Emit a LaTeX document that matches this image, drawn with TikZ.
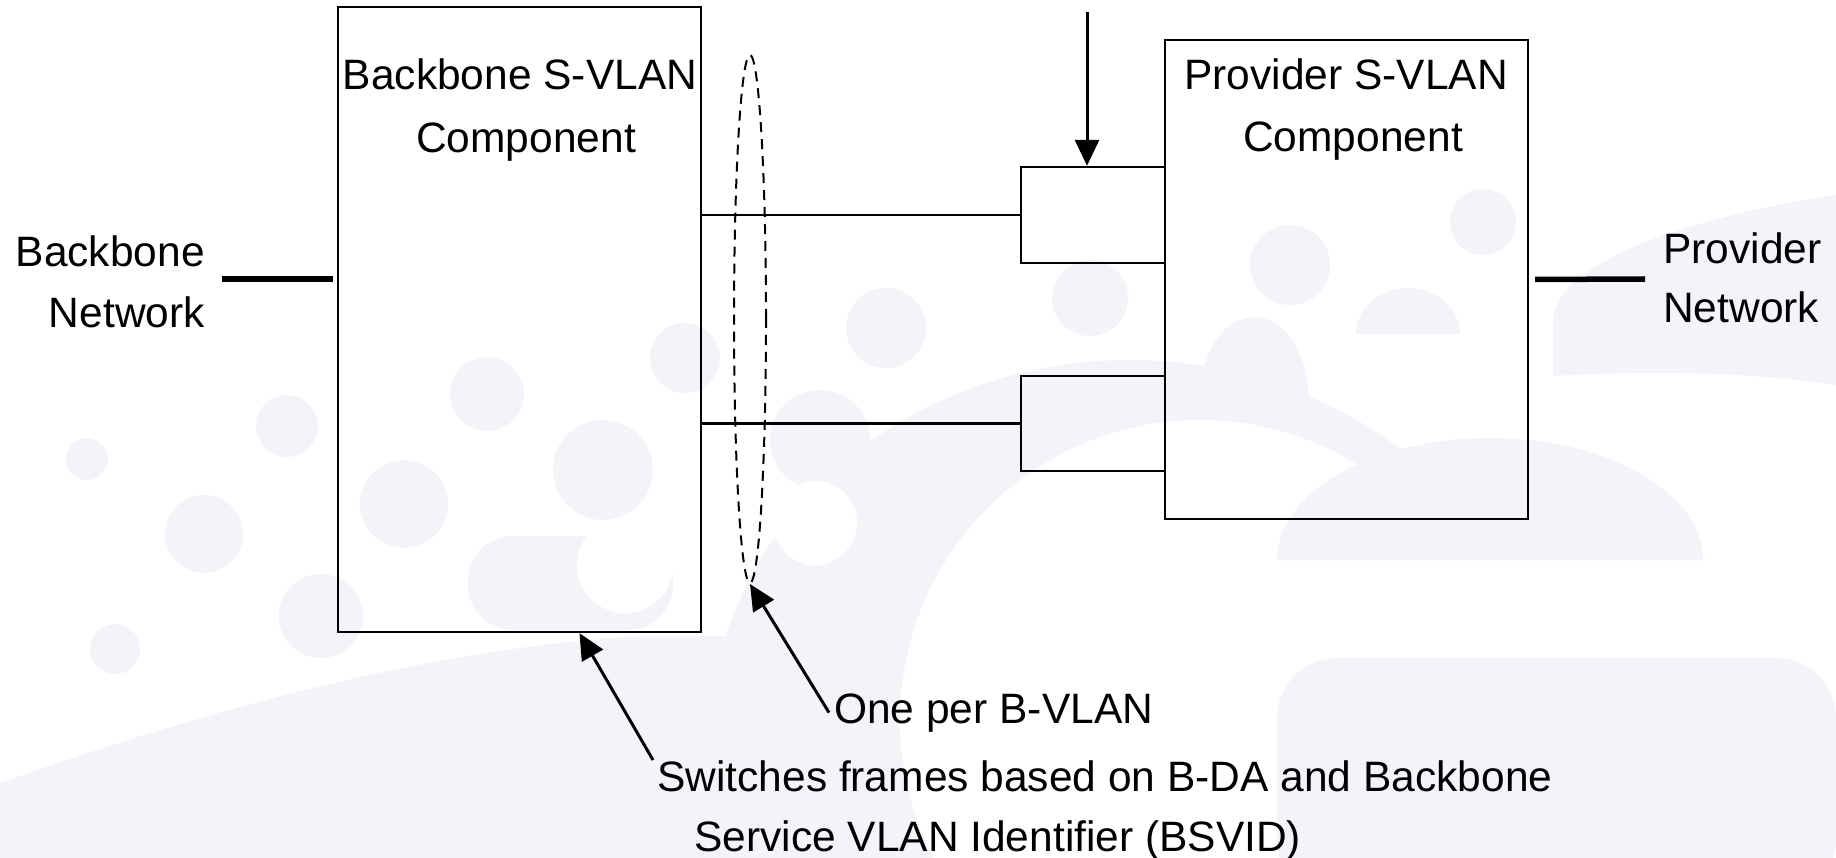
\documentclass[tikz,border=0pt]{standalone}
\usepackage{fontspec}
\setmainfont{Liberation Sans}
\usetikzlibrary{arrows.meta,shapes.geometric}
\definecolor{wm}{RGB}{245,243,249}
\begin{document}
\begin{tikzpicture}[x=1pt,y=-1pt,
  box/.style={draw=black, line width=2.4pt, inner sep=0pt},
  lbl/.style={font=\fontsize{42.5}{61}\selectfont, inner sep=0pt},
  conn/.style={line width=2.2pt},
  net/.style={line width=5.5pt},
  arr/.style={line width=3pt, -{Triangle[length=26pt,width=24pt]}},
  ring/.style={dash pattern=on 10pt off 7pt, line width=2pt}]
\useasboundingbox (0,0) rectangle (1836,858);
\fill[white] (0,0) rectangle (1836,858);
% ---- watermark background ----
\fill[wm] (0,858) -- (0,783) .. controls (150,730) and (400,650) .. (640,636) -- (900,636) -- (900,858) -- cycle;
\fill[wm] (1130,740) ellipse [x radius=420, y radius=380];
\fill[wm] (87,459) circle[radius=21];
\fill[wm] (204,534) circle[radius=39];
\fill[wm] (115,649) circle[radius=25];
\fill[wm] (287,426) circle[radius=31];
\fill[wm] (321,616) circle[radius=42];
\fill[wm] (487,394) circle[radius=37];
\fill[wm] (404,504) circle[radius=44];
\fill[wm] (603,470) circle[radius=50];
\fill[wm] (685,358) circle[radius=35];
\fill[wm] (820,440) circle[radius=50];
\fill[wm] (886,328) circle[radius=40];
\fill[wm] (1090,298) circle[radius=38];
\fill[wm] (1290,265) circle[radius=40];
\fill[wm] (1483,222) circle[radius=33];
\fill[wm, rounded corners=45] (468,536) rectangle (673,630);
\fill[white] (625,565) circle[radius=48];
\fill[white] (815,523) circle[radius=42];
\fill[white] (1200,720) circle[radius=300];
\fill[white] (1274,559) rectangle (1836,658);
\fill[wm] (1277,560) arc[start angle=180, end angle=360, x radius=213, y radius=122] -- cycle;
\fill[wm, rounded corners=60] (1277,658) -- (1836,658) -- (1836,900) -- (1277,900) -- cycle;
\fill[wm] (1356,334) arc[start angle=180, end angle=360, x radius=52, y radius=46] -- cycle;
\fill[wm] (1199,401) arc[start angle=180, end angle=360, x radius=55, y radius=84] -- cycle;
\fill[wm] (1553,376) -- (1553,320) .. controls (1556,260) and (1700,215) .. (1836,195) -- (1836,385) .. controls (1750,372) and (1650,370) .. (1553,376) -- cycle;
% ---- boxes ----
\node[box, minimum width=363pt, minimum height=625pt] (bb) at (519.5,319.5) {};
\node[box, minimum width=363pt, minimum height=479pt] (pb) at (1346.5,279.5) {};
\node[box, minimum width=144pt, minimum height=96pt] (p1) at (1093,215) {};
\node[box, minimum width=144pt, minimum height=95pt] (p2) at (1093,423.5) {};
\node[draw, ellipse, ring, inner sep=0pt, minimum width=32pt, minimum height=528pt] (el) at (750,319) {};
% ---- labels ----
\node[lbl, anchor=base] (bbt1) at (520,90) {Backbone S-VLAN};
\node[lbl, anchor=base] (bbt2) at (526,153) {Component};
\node[lbl, anchor=base] (pbt1) at (1346,90) {Provider S-VLAN};
\node[lbl, anchor=base] (pbt2) at (1353,152) {Component};
\node[lbl, anchor=base east] (bn1) at (205,267) {Backbone};
\node[lbl, anchor=base east] (bn2) at (205,328) {Network};
\node[lbl, anchor=base west] (pn1) at (1663,264) {Provider};
\node[lbl, anchor=base west] (pn2) at (1663,323) {Network};
\node[lbl, anchor=base west] (one) at (834,723) {One per B-VLAN};
\node[lbl, anchor=base west] (sw1) at (657,791) {Switches frames based on B-DA and Backbone};
\node[lbl, anchor=base west] (sw2) at (694,851) {Service VLAN Identifier (BSVID)};
% ---- connectors ----
\draw[conn] (p1.west) -- (p1.west -| bb.east);
\draw[conn] (p2.west) -- (p2.west -| bb.east);
\coordinate (bl) at (222,279);
\draw[net, shorten >=4pt] (bl) -- (bl -| bb.west);
\coordinate (pr) at (1645,279);
\draw[net, shorten <=6pt] (pb.east) -- (pr);
\coordinate (ta) at (1087,12);
\draw[arr] (ta) -- (ta |- p1.north);
\draw[arr] ([xshift=-5pt]one.west) -- (el.south);
\draw[arr] ([xshift=-4pt]sw1.north west) -- ([xshift=60pt]bb.south);
\end{tikzpicture}
\end{document}
